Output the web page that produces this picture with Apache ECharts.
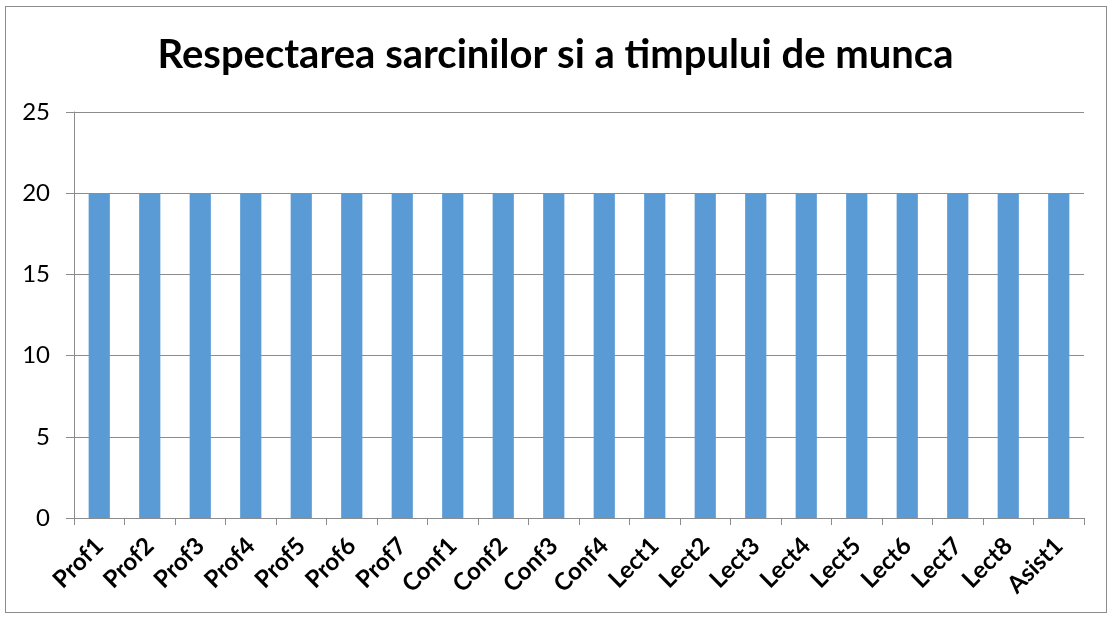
<!DOCTYPE html>
<html>
<head>
<meta charset="utf-8">
<script src="https://cdn.jsdelivr.net/npm/echarts@6/dist/echarts.min.js"></script>
<style>
  html, body { margin: 0; padding: 0; background: #fff; }
  #frame { position: absolute; left: 5px; top: 6px; width: 1102px; height: 607px; border: 1px solid #8c8c8c; box-sizing: border-box; }
  #chart { position: absolute; left: 0; top: 0; width: 1111px; height: 619px; }
</style>
</head>
<body>
<div id="frame"></div>
<div id="chart"></div>
<script>
// Chart data
const titleText = 'Respectarea sarcinilor si a timpului de munca';
const categories = ['Prof1', 'Prof2', 'Prof3', 'Prof4', 'Prof5', 'Prof6', 'Prof7',
  'Conf1', 'Conf2', 'Conf3', 'Conf4', 'Lect1', 'Lect2', 'Lect3', 'Lect4',
  'Lect5', 'Lect6', 'Lect7', 'Lect8', 'Asist1'];
const values = [20, 20, 20, 20, 20, 20, 20, 20, 20, 20, 20, 20, 20, 20, 20, 20, 20, 20, 20, 20];
const yTicks = [0, 5, 10, 15, 20, 25];

const FONT = 'Lato, "Open Sans", sans-serif';

const chart = echarts.init(document.getElementById('chart'));
chart.setOption({
  animation: false,
  title: {
    text: titleText,
    left: 'center',
    top: 30,
    textStyle: { fontFamily: FONT, fontSize: 40, fontWeight: 'bold', color: '#000' }
  },
  grid: { left: 74, right: 27, top: 112, bottom: 101, containLabel: false },
  xAxis: {
    type: 'category',
    data: categories,
    axisLine: { lineStyle: { color: '#8c8c8c', width: 1 } },
    axisTick: { show: true, length: 7, lineStyle: { color: '#8c8c8c' } },
    axisLabel: {
      rotate: 45,
      interval: 0,
      margin: 24,
      fontFamily: FONT,
      fontSize: 24,
      fontWeight: 'bold',
      color: '#000'
    }
  },
  yAxis: {
    type: 'value',
    min: yTicks[0],
    max: yTicks[yTicks.length - 1],
    interval: 5,
    axisLine: { show: true, lineStyle: { color: '#8c8c8c', width: 1 } },
    axisTick: { show: true, length: 8, lineStyle: { color: '#8c8c8c' } },
    splitLine: { show: true, lineStyle: { color: '#8c8c8c', width: 1 } },
    axisLabel: {
      margin: 24,
      fontFamily: FONT,
      fontSize: 24,
      color: '#000'
    }
  },
  series: [{
    type: 'bar',
    data: values,
    barWidth: '42%',
    itemStyle: { color: '#5b9bd5' }
  }]
});
</script>
</body>
</html>
